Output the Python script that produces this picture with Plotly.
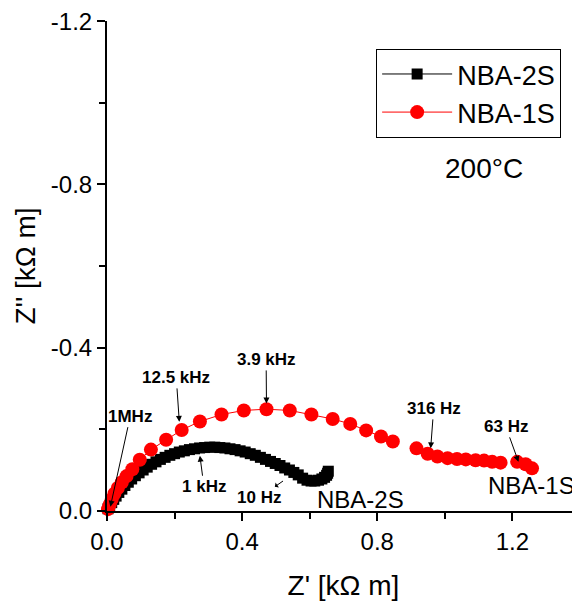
import plotly.graph_objects as go

FONT = "Arial, Liberation Sans, sans-serif"

# NBA-2S (black squares): Z' [kOhm m], Z'' [kOhm m]
z2_re = [0.003, 0.008, 0.014, 0.02, 0.027, 0.035, 0.044, 0.053, 0.063, 0.073, 0.084, 0.095,
         0.107, 0.119, 0.132, 0.145, 0.158, 0.172, 0.186, 0.2, 0.214, 0.229, 0.244, 0.259,
         0.274, 0.289, 0.304, 0.319, 0.334, 0.349, 0.364, 0.379, 0.394, 0.409, 0.424, 0.439,
         0.454, 0.469, 0.484, 0.498, 0.512, 0.526, 0.54, 0.553, 0.566, 0.579, 0.592, 0.604,
         0.615, 0.626, 0.636, 0.644, 0.65, 0.653, 0.655]
z2_im = [-0.005, -0.012, -0.02, -0.028, -0.036, -0.045, -0.053, -0.062, -0.07, -0.078, -0.086, -0.093,
         -0.1, -0.107, -0.114, -0.12, -0.126, -0.131, -0.136, -0.14, -0.144, -0.147, -0.15, -0.152,
         -0.154, -0.155, -0.156, -0.156, -0.155, -0.154, -0.152, -0.15, -0.147, -0.144, -0.14, -0.136,
         -0.131, -0.126, -0.121, -0.116, -0.111, -0.105, -0.1, -0.094, -0.088, -0.08, -0.075, -0.073,
         -0.073, -0.075, -0.078, -0.082, -0.087, -0.092, -0.097]

# NBA-1S (red circles)
z1_re = [0.003, 0.008, 0.014, 0.022, 0.032, 0.044, 0.058, 0.075, 0.097, 0.13, 0.175, 0.221,
         0.275, 0.339, 0.405, 0.472, 0.541, 0.605, 0.668, 0.72, 0.767, 0.811, 0.846, None,
         0.916, 0.949, 0.978, 1.008, 1.036, 1.062, 1.091, 1.116, 1.14, 1.165, None,
         1.214, 1.239, 1.258]
z1_im = [-0.004, -0.015, -0.028, -0.042, -0.056, -0.07, -0.085, -0.102, -0.125, -0.15, -0.174, -0.198,
         -0.219, -0.236, -0.246, -0.249, -0.246, -0.236, -0.225, -0.213, -0.197, -0.182, -0.17, None,
         -0.153, -0.14, -0.133, -0.129, -0.127, -0.126, -0.124, -0.123, -0.12, -0.118, None,
         -0.12, -0.114, -0.104]

x_ticks = [0.0, 0.4, 0.8, 1.2]
y_ticks = [-1.2, -0.8, -0.4, 0.0]

# frequency labels: text, text position (x, y), arrow target (x, y), arrow side
freq_text = ["1MHz", "12.5 kHz", "3.9 kHz", "1 kHz", "10 Hz", "316 Hz", "63 Hz"]
freq_tx = [0.069, 0.205, 0.471, 0.287, 0.45, 0.967, 1.18]
freq_ty = [-0.232, -0.327, -0.371, -0.059, -0.032, -0.251, -0.207]
freq_hx = [0.01, 0.214, 0.472, 0.275, 0.521, 0.958, 1.218]
freq_hy = [-0.01, -0.218, -0.263, -0.135, -0.073, -0.153, -0.12]
freq_side = ["end", "end", "end", "end", "start", "end", "end"]

sample_text = ["NBA-2S", "NBA-1S"]
sample_x = [0.75, 1.39]
sample_y = [-0.027, -0.063]
sample_anchor = ["center", "right"]

temp_text = "200°C"
temp_x, temp_y = 1.116, -0.839

fig = go.Figure()
fig.add_trace(go.Scatter(
    x=z2_re, y=z2_im, name="NBA-2S", mode="lines+markers",
    line=dict(color="black", width=1),
    marker=dict(symbol="square", size=11, color="black"),
    cliponaxis=False,
))
fig.add_trace(go.Scatter(
    x=z1_re, y=z1_im, name="NBA-1S", mode="lines+markers",
    line=dict(color="red", width=1),
    marker=dict(symbol="circle", size=14, color="red"),
    cliponaxis=False, connectgaps=False,
))

anns = []
for t, tx, ty, hx, hy, side in zip(freq_text, freq_tx, freq_ty, freq_hx, freq_hy, freq_side):
    anns.append(dict(
        x=hx, y=hy, ax=tx, ay=ty, xref="x", yref="y", axref="x", ayref="y",
        text="<b>%s</b>" % t, showarrow=True, arrowhead=2, arrowsize=1.2, arrowwidth=1,
        arrowcolor="black", arrowside=side, standoff=0, startstandoff=0,
        font=dict(family=FONT, size=17, color="black"),
    ))
for t, sx, sy, xa in zip(sample_text, sample_x, sample_y, sample_anchor):
    anns.append(dict(x=sx, y=sy, xref="x", yref="y", text=t, showarrow=False, xanchor=xa,
                     font=dict(family=FONT, size=24, color="black")))
anns.append(dict(x=temp_x, y=temp_y, xref="x", yref="y", text=temp_text, showarrow=False,
                 font=dict(family=FONT, size=28, color="black")))

fig.update_layout(
    width=572, height=598,
    margin=dict(l=99, r=0, t=11, b=95),
    paper_bgcolor="white", plot_bgcolor="white",
    font=dict(family=FONT, color="black"),
    showlegend=True,
    legend=dict(
        x=0.569, y=0.943, xanchor="left", yanchor="top",
        bordercolor="black", borderwidth=1, bgcolor="white",
        font=dict(family=FONT, size=27, color="black"),
        itemwidth=70, tracegroupgap=0,
    ),
    annotations=anns,
)
fig.update_xaxes(
    range=[0, 1.4], tickmode="array", tickvals=x_ticks, ticktext=["%.1f" % v for v in x_ticks],
    ticks="outside", ticklen=8, tickwidth=2, tickcolor="black",
    minor=dict(tickmode="linear", tick0=0, dtick=0.2, ticks="outside", ticklen=6, tickwidth=2, tickcolor="black"),
    showline=True, linecolor="black", linewidth=2, showgrid=False, zeroline=False,
    tickfont=dict(family=FONT, size=24, color="black"), ticklabeloverflow="allow",
    title=dict(text="Z' [kΩ m]", font=dict(family=FONT, size=28, color="black"), standoff=22),
)
fig.update_yaxes(
    range=[0.0005, -1.2005], tickmode="array", tickvals=y_ticks, ticktext=["%.1f" % v for v in y_ticks],
    ticks="outside", ticklen=8, tickwidth=2, tickcolor="black",
    minor=dict(tickmode="linear", tick0=0, dtick=0.2, ticks="outside", ticklen=6, tickwidth=2, tickcolor="black"),
    showline=True, linecolor="black", linewidth=2, showgrid=False, zeroline=False,
    tickfont=dict(family=FONT, size=24, color="black"), ticklabeloverflow="allow",
    title=dict(text="Z'' [kΩ m]", font=dict(family=FONT, size=28, color="black"), standoff=7),
)

fig.write_html("out.html")
